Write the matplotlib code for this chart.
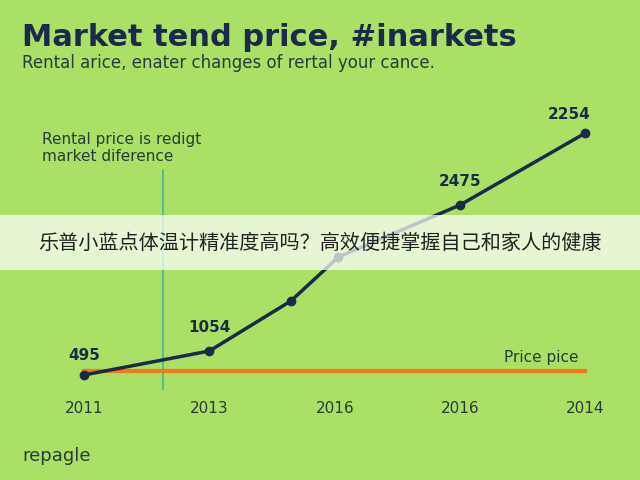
import matplotlib
matplotlib.use("Agg")
import matplotlib.pyplot as plt
from matplotlib.patches import Rectangle

x_pos = [0, 1, 1.65, 2.03, 3, 4]
values = [25, 49, 99, 143, 195, 267]
point_labels = ["495", "1054", "", "", "2475", "2254"]
tick_pos = [0, 1, 2, 3, 4]
tick_labels = ["2011", "2013", "2016", "2016", "2014"]
price_level = 29

bg = "#a9e065"
navy = "#1b2a4a"
fig = plt.figure(figsize=(6.4, 4.8), dpi=100, facecolor=bg)
ax = fig.add_axes([0.05, 90/480, 0.9, 270/480])
ax.set_facecolor(bg)
for s in ax.spines.values():
    s.set_visible(False)
ax.set_xlim(-0.415, 4.18)
ax.set_ylim(10, 280)
ax.set_yticks([])
ax.set_xticks(tick_pos, tick_labels, fontsize=11, color="#2a3a3a")
ax.tick_params(axis="x", length=0, pad=8)

ax.plot([0, 4], [price_level, price_level], color="#f07a1a", lw=3, zorder=2)
ax.plot([0.63, 0.63], [10, 230], color="#3fb89a", lw=1.2, zorder=1)
ax.plot(x_pos, values, color=navy, lw=2.5, marker="o", ms=6, zorder=3)
offs = {0: (0, 11), 1: (0, 14), 4: (0, 14), 5: (-12, 10)}
for i, lab in enumerate(point_labels):
    if lab:
        dx, dy = offs[i]
        ax.annotate(lab, (x_pos[i], values[i]), xytext=(dx, dy), textcoords="offset points",
                    ha="center", fontsize=11, fontweight="bold", color=navy)
ax.text(3.65, price_level + 9, "Price pice", fontsize=11, color="#2a3a3a", ha="center")
fig.text(42/640, 1 - 148/480, "Rental price is redigt\nmarket diference", fontsize=11,
         color="#2a3a3a", va="center", linespacing=1.1)

fig.text(22/640, 1 - 37/480, "Market tend price, #inarkets", fontsize=22, fontweight="heavy",
         color=navy, va="center")
fig.text(22/640, 1 - 63/480, "Rental arice, enater changes of rertal your cance.", fontsize=12,
         color="#2a3a40", va="center")
fig.text(22/640, 1 - 456/480, "repagle", fontsize=13, color="#2a3a40", va="center")

fig.patches.append(Rectangle((0, 1 - 270/480), 1, 55/480, transform=fig.transFigure,
                             facecolor="white", alpha=0.72, edgecolor="none", zorder=5))
fig.text(0.5, 1 - 243/480, "乐普小蓝点体温计精准度高吗？高效便捷掌握自己和家人的健康",
         fontsize=14.5, color="#222222", ha="center", va="center", zorder=6,
         family=["Noto Sans CJK SC", "DejaVu Sans"])
fig.savefig("out.png", dpi=100, facecolor=bg)
